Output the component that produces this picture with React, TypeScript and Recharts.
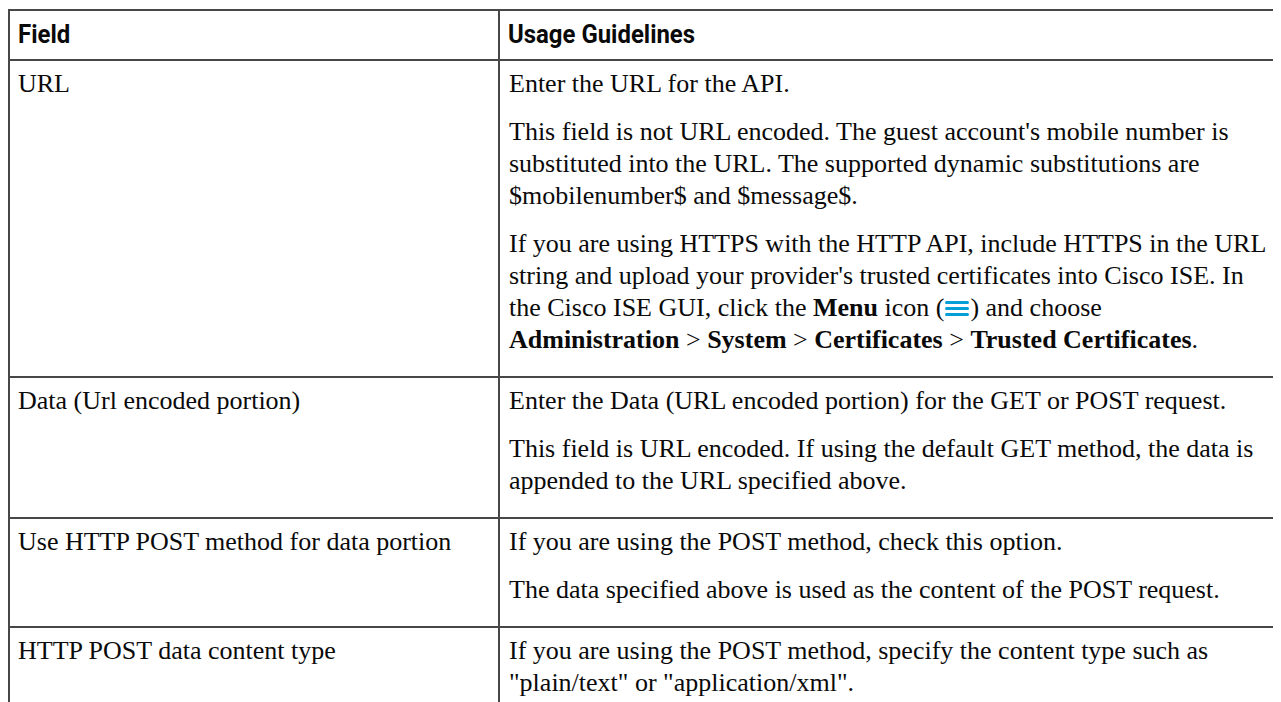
import React from "react";
import { Surface, Rectangle } from "recharts";

// table content
const headers = ["Field", "Usage Guidelines"];

const fields = [
  "URL",
  "Data (Url encoded portion)",
  "Use HTTP POST method for data portion",
  "HTTP POST data content type",
];

// each paragraph is a list of [text, bold] parts; "@menu" marks the icon
type Part = [string, boolean];

const urlGuidelines: Part[][] = [
  [["Enter the URL for the API.", false]],
  [
    [
      "This field is not URL encoded. The guest account's mobile number is substituted into the URL. The supported dynamic substitutions are $mobilenumber$ and $message$.",
      false,
    ],
  ],
  [
    [
      "If you are using HTTPS with the HTTP API, include HTTPS in the URL string and upload your provider's trusted certificates into Cisco ISE. In the Cisco ISE GUI, click the ",
      false,
    ],
    ["Menu", true],
    [" icon (", false],
    ["@menu", false],
    [") and choose ", false],
    ["Administration", true],
    [" > ", false],
    ["System", true],
    [" > ", false],
    ["Certificates", true],
    [" > ", false],
    ["Trusted Certificates", true],
    [".", false],
  ],
];

const dataGuidelines: Part[][] = [
  [["Enter the Data (URL encoded portion) for the GET or POST request.", false]],
  [
    [
      "This field is URL encoded. If using the default GET method, the data is appended to the URL specified above.",
      false,
    ],
  ],
];

const postGuidelines: Part[][] = [
  [["If you are using the POST method, check this option.", false]],
  [["The data specified above is used as the content of the POST request.", false]],
];

const contentTypeGuidelines: Part[][] = [
  [
    [
      'If you are using the POST method, specify the content type such as "plain/text" or "application/xml".',
      false,
    ],
  ],
];

const guidelines = [urlGuidelines, dataGuidelines, postGuidelines, contentTypeGuidelines];

const border = "2px solid #474747";
const serif = "'Liberation Serif', 'Times New Roman', serif";

const MenuIcon = () => (
  <Surface width={26} height={20} viewBox={{ x: 0, y: 0, width: 26, height: 20 }} style={{ verticalAlign: "-2px" }}>
    <Rectangle x={1} y={3} width={24} height={3} fill="#049fd9" radius={1.5} />
    <Rectangle x={1} y={9} width={24} height={3} fill="#049fd9" radius={1.5} />
    <Rectangle x={1} y={15} width={24} height={3} fill="#049fd9" radius={1.5} />
  </Surface>
);

const cell: React.CSSProperties = {
  borderLeft: border,
  borderTop: border,
  verticalAlign: "top",
  padding: "7px 8px 4px 8px",
  textAlign: "left",
  fontFamily: serif,
  fontSize: 26,
  lineHeight: "32px",
  color: "#0a0a0a",
};

const para: React.CSSProperties = { margin: "0 0 16px 0" };

export default function App() {
  return (
    <div style={{ width: 1273, height: 694, overflow: "hidden", background: "#fff" }}>
      <table
        style={{
          borderCollapse: "collapse",
          tableLayout: "fixed",
          width: 1272,
          marginTop: 1,
          borderRight: border,
        }}
      >
        <colgroup>
          <col style={{ width: 490 }} />
          <col style={{ width: 782 }} />
        </colgroup>
        <thead>
          <tr>
            {headers.map((h) => (
              <th
                key={h}
                style={{
                  ...cell,
                  height: 48,
                  padding: "0 8px",
                  verticalAlign: "middle",
                }}
              >
                <span
                  style={{
                    display: "inline-block",
                    fontFamily: "Roboto, 'DejaVu Sans', sans-serif",
                    fontWeight: 700,
                    fontSize: 26,
                    lineHeight: "28px",
                    transform: "scaleX(0.92)",
                    transformOrigin: "left center",
                    whiteSpace: "nowrap",
                  }}
                >
                  {h}
                </span>
              </th>
            ))}
          </tr>
        </thead>
        <tbody>
          {fields.map((f, i) => (
            <tr key={f}>
              <td style={cell}>
                <p style={para}>{f}</p>
              </td>
              <td style={{ ...cell, paddingLeft: 9 }}>
                {guidelines[i].map((p, j) => (
                  <p key={j} style={para}>
                    {p.map(([t, b], k) =>
                      t === "@menu" ? (
                        <MenuIcon key={k} />
                      ) : b ? (
                        <b key={k}>{t}</b>
                      ) : (
                        <span key={k}>{t}</span>
                      )
                    )}
                  </p>
                ))}
              </td>
            </tr>
          ))}
        </tbody>
      </table>
    </div>
  );
}
